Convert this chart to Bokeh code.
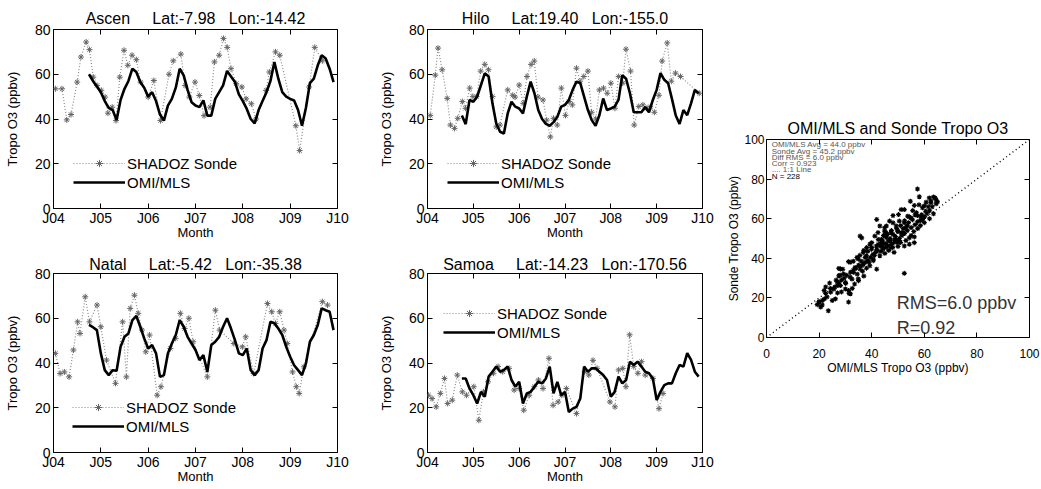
from bokeh.plotting import figure
from bokeh.layouts import row, column
from bokeh.models import (FixedTicker, LinearAxis, Legend, LegendItem, Range1d,
                          ColumnDataSource)
from bokeh.core.properties import value
from bokeh.embed import file_html
from bokeh.resources import INLINE

FONT = "Liberation Sans"

# ---------------- data ----------------
year_ticks = [2004, 2005, 2006, 2007, 2008, 2009, 2010]
year_labels = ["J04", "J05", "J06", "J07", "J08", "J09", "J10"]
o3_ticks = [0, 20, 40, 60, 80]

# OMI/MLS monthly values, Oct 2004 .. Dec 2009
omi_months = [2004.75 + i / 12 for i in range(63)]

ascen_omi = [60, 57, 54.5,
             52, 48, 45, 44, 39.5, 48.5, 53.5, 57, 62.5, 61, 56.5, 54,
             50, 52, 48, 42, 39.3, 46, 49, 54, 62.5, 59.5, 53, 47.5,
             46, 45.3, 48.3, 41.5, 41.5, 49, 52, 55, 61.5, 59, 56.5, 51,
             48, 44.5, 40, 38, 44, 48, 52, 57, 65.5, 58, 52, 50,
             49, 48.3, 44, 37, 45, 56, 58, 64, 68.5, 67, 62.5, 56.5]
ascen_sonde_t = [2004.04, 2004.18, 2004.28, 2004.37, 2004.50, 2004.58, 2004.69, 2004.76, 2004.84, 2004.92,
                 2005.01, 2005.09, 2005.15, 2005.24, 2005.32, 2005.40, 2005.49, 2005.57, 2005.66, 2005.75,
                 2005.84, 2006.00, 2006.12, 2006.26, 2006.44, 2006.53, 2006.69, 2006.78, 2006.87, 2006.99,
                 2007.08, 2007.18, 2007.31, 2007.40, 2007.50, 2007.59, 2007.67, 2007.75, 2007.86, 2007.98,
                 2008.07, 2008.18, 2008.28, 2008.49, 2008.56, 2008.69, 2008.78, 2009.12, 2009.20, 2009.40,
                 2009.52, 2009.68]
ascen_sonde_v = [53.5, 53.5, 39.6, 42, 56.5, 67.7, 74.4, 71, 58.7, 55,
                 52.8, 49.8, 42.6, 45.3, 39.3, 58.7, 70.7, 64, 68.5, 66.5,
                 56.5, 49.8, 57.2, 39.3, 60, 66, 69, 55, 49.8, 56.5,
                 50.5, 41.5, 45.3, 65.5, 68.5, 76, 72, 62.5, 55.8, 54.3,
                 49, 46.8, 40, 52.8, 61, 70, 68.5, 37, 25.9, 54.3,
                 72, 66]

hilo_omi = [41.6, 37.7, 48.5,
            47.7, 50, 55.2, 60.4, 59, 47, 38, 34.3, 33.5, 42.5, 47.7, 45.5,
            44.7, 42.5, 50, 56.7, 51.5, 44, 40, 37.8, 37, 38.6, 41, 45.5,
            46.3, 48.5, 53, 56.7, 56, 50, 44, 39.5, 37, 41.7, 49.2, 44,
            44.7, 45.5, 48.5, 59.6, 58, 51.5, 43, 43, 43, 45.3, 43, 48.5,
            53, 60.5, 57.5, 56, 49, 41.6, 37.8, 44, 41.7, 47, 53, 51.5]
hilo_sonde_t = [2004.06, 2004.17, 2004.23, 2004.32, 2004.43, 2004.50, 2004.59, 2004.66, 2004.76, 2004.83,
                2004.92, 2004.99, 2005.07, 2005.16, 2005.25, 2005.33, 2005.42, 2005.50, 2005.58, 2005.75,
                2005.86, 2005.91, 2006.00, 2006.09, 2006.17, 2006.26, 2006.33, 2006.41, 2006.52, 2006.60,
                2006.68, 2006.75, 2006.83, 2006.92, 2007.01, 2007.09, 2007.16, 2007.25, 2007.33, 2007.41,
                2007.50, 2007.58, 2007.67, 2007.75, 2007.84, 2007.92, 2008.00, 2008.09, 2008.17, 2008.26,
                2008.33, 2008.43, 2008.51, 2008.61, 2008.70, 2008.79, 2008.86, 2008.95, 2009.05, 2009.12,
                2009.23, 2009.32, 2009.41, 2009.52, 2009.93]
hilo_sonde_v = [41.6, 59.6, 71.7, 62, 49.2, 37.3, 35.8, 40.3, 47.8, 44.8,
                53.8, 50, 50, 61.4, 64.4, 62, 50, 36.5, 37.3, 53,
                50.6, 49.8, 55.2, 47, 59, 64.4, 65.9, 49.8, 48.5, 39.5,
                32, 40.3, 37.3, 53.8, 41.6, 47.8, 46.3, 62.7, 56.9, 59,
                61.4, 43, 40, 53, 53.8, 51.5, 56, 44.8, 59, 56,
                71.2, 61.4, 37.3, 45.6, 46.3, 44.8, 45.5, 43, 50.6, 65.9,
                74, 56.9, 60.5, 59, 51.5]

natal_omi = [57, 56, 54.7,
             44.3, 36.8, 34.6, 36.8, 36.5, 47.2, 51.7, 53.2, 59.2, 61, 56.2, 51,
             46.5, 48, 44.3, 33.8, 34.6, 44.3, 48.7, 52.5, 59.2, 56.2, 51.7, 48.7,
             45.8, 41.3, 43.5, 36, 48, 49.5, 51.7, 56.2, 60, 55.4, 50.2, 44.3,
             43.5, 46.5, 36.8, 34.6, 36.8, 46.5, 50.2, 58.4, 57.7, 55.4, 52.5, 47.2,
             42.8, 39, 36.8, 34.6, 39.8, 49.5, 52.5, 57, 64.4, 63.6, 62.9, 54.7]
natal_sonde_t = [2004.04, 2004.14, 2004.23, 2004.33, 2004.42, 2004.51, 2004.56, 2004.67, 2004.76, 2004.92,
                 2005.00, 2005.12, 2005.31, 2005.46, 2005.54, 2005.62, 2005.71, 2005.79, 2005.87, 2005.95,
                 2006.03, 2006.19, 2006.27, 2006.47, 2006.58, 2006.68, 2006.77, 2006.86, 2006.95, 2007.25,
                 2007.42, 2007.51, 2007.81, 2007.99, 2008.06, 2008.23, 2008.52, 2008.61, 2008.69, 2008.78,
                 2008.87, 2008.94, 2009.05, 2009.13, 2009.19, 2009.29, 2009.68, 2009.79]
natal_sonde_v = [44.3, 35.3, 36, 33.8, 45.8, 58.4, 53.2, 69.6, 58.4, 65.9,
                 56.2, 41.3, 30.9, 58.4, 33.8, 64.4, 70.3, 62.2, 54.7, 45,
                 52.5, 25.6, 29.4, 46.5, 51, 62.2, 55.4, 60, 49.5, 33.8,
                 63.6, 54.7, 48.7, 47.2, 51.7, 35.3, 66.6, 62.9, 57.7, 62.9,
                 54.7, 48.7, 36, 29.4, 26.4, 38.3, 67.4, 65.9]

samoa_omi = [33.1, 33.1, 28.6,
             25.6, 21.9, 27.1, 24.9, 33.9, 36.1, 38.4, 36.1, 36.9, 38.4, 32.4, 29.4,
             31.6, 21.9, 26.4, 27.1, 29.4, 31.6, 30.9, 33.1, 38.4, 26.4, 31.6, 25.6,
             27.1, 18.1, 19.6, 20.4, 24.1, 38.4, 36.1, 37.6, 37.6, 36.1, 34.6, 32.4,
             24.9, 27.1, 33.9, 30.9, 32.4, 40.6, 39.1, 40.6, 38.4, 36.1, 35.4, 33.1,
             23.4, 27.1, 30.1, 30.9, 30.9, 35.4, 39.1, 38.4, 44.4, 41.4, 36.1, 33.9]
samoa_sonde_t = [2004.02, 2004.10, 2004.19, 2004.28, 2004.37, 2004.44, 2004.54, 2004.65, 2004.76, 2004.85,
                 2005.01, 2005.12, 2005.22, 2005.32, 2005.44, 2005.54, 2005.64, 2005.78, 2005.89, 2006.00,
                 2006.10, 2006.22, 2006.33, 2006.42, 2006.52, 2006.65, 2006.74, 2006.85, 2006.93, 2007.03,
                 2007.25, 2007.43, 2007.52, 2007.61, 2007.70, 2007.98, 2008.09, 2008.17, 2008.26, 2008.33,
                 2008.41, 2008.50, 2008.59, 2008.67, 2008.75, 2008.92, 2009.05, 2009.14]
samoa_sonde_v = [25.6, 24.1, 20.4, 26.4, 33.1, 21.9, 23.4, 34.6, 27.1, 25.6,
                 29.4, 14.4, 27.1, 31.6, 35.4, 38.4, 36.1, 37.6, 27.9, 28.6,
                 18.9, 25.6, 29.4, 32.4, 28.6, 42.1, 21.1, 22.6, 25.6, 28.6,
                 17.4, 36.1, 34.6, 41.2, 37.6, 22.6, 20.4, 36.9, 37.6, 29.4,
                 52.6, 38.4, 35.4, 40.6, 34.6, 33.1, 19.6, 26.4]

# scatter: OMI/MLS (x) vs sonde (y)
scatter_omi = [57.4, 58.1, 61.9, 64.1, 60.7, 62.5, 54.7, 56.2, 52.4, 55.6, 59.3, 57.4, 53.7, 51.2, 50.2,
               41.9, 48.1, 45.6, 43.1, 52.4, 54.9, 59.3, 49.9, 47.3, 51.2, 44.9, 41.2, 35.6, 54.3, 52.4,
               56.2, 38.1, 40.0, 43.7, 46.2, 48.7, 41.9, 44.3, 47.3, 43.1, 40.6, 37.5, 34.4, 31.2, 36.8,
               39.3, 35.6, 33.1, 27.5, 41.9, 52.4, 32.5, 35.0, 30.0, 27.5, 26.9, 28.1, 25.6, 31.2, 31.9,
               21.9, 24.4, 26.2, 25.0, 31.2, 20.0, 19.3, 20.6, 23.5, 21.2,
               60.5, 58.7, 54.3, 48.1, 46.8, 50.5, 49.3, 44.9, 53.0, 42.4, 45.5, 48.1, 51.8, 56.2, 36.2,
               43.7, 46.8, 49.9, 54.3, 39.3, 41.8, 44.3, 39.9, 36.8, 38.0, 34.9, 40.6, 31.8, 33.7, 36.2,
               28.1, 29.3, 31.8, 34.9, 26.9, 30.1, 32.6, 24.3, 22.5, 31.4, 20.0, 21.2,
               42.5, 43.5, 45.0, 46.0, 47.5, 48.5, 44.0, 45.5, 47.0, 49.0, 50.5, 51.5, 52.5, 53.5, 55.0,
               56.5, 57.5, 58.5, 60.0, 61.0, 62.0, 63.0, 64.5, 65.0, 38.5, 39.5, 40.5, 41.5, 42.0, 37.5,
               36.0, 35.0, 34.0, 33.0, 32.0, 30.5, 29.5, 28.5, 27.5, 26.0, 46.5, 48.0, 50.0, 51.0, 53.0,
               55.0, 56.0, 57.5, 58.5, 60.0, 62.0, 63.5, 40.0, 38.5, 37.0, 42.5, 44.5, 46.0, 47.5, 49.5,
               51.0, 52.5, 54.0, 55.5, 57.0, 59.0, 48.5, 45.0, 43.5, 47.0, 34.5, 36.5, 38.0, 37.0, 33.5,
               30.0, 28.5, 27.0, 23.0, 22.0, 50.0, 52.0, 53.5, 49.0, 50.5, 45.5, 44.0, 41.0, 39.0, 35.5,
               33.0, 29.0, 28.0, 26.5, 24.0, 22.5, 58.0, 60.0, 61.5, 56.5, 62.5, 63.5, 64.5]
scatter_sonde = [75.0, 71.1, 70.5, 70.5, 68.3, 68.0, 68.8, 66.7, 64.6, 64.1, 65.5, 61.6, 61.3, 64.6, 62.1,
                 59.6, 57.9, 56.3, 56.3, 57.9, 60.4, 59.6, 53.7, 52.9, 52.9, 53.7, 51.2, 51.2, 50.3, 46.2,
                 47.9, 45.4, 47.9, 47.9, 48.7, 49.6, 44.6, 44.6, 45.4, 41.3, 39.6, 40.4, 40.4, 38.3, 37.0,
                 36.2, 34.5, 32.9, 34.9, 34.5, 32.4, 29.5, 28.7, 27.8, 31.2, 26.2, 26.2, 24.5, 23.7, 22.1,
                 23.7, 22.9, 19.5, 18.7, 17.9, 17.9, 16.6, 15.4, 13.5, 18.7,
                 63.8, 60.9, 60.9, 61.6, 58.8, 58.8, 56.3, 55.4, 55.4, 53.0, 53.0, 52.1, 53.0, 50.8, 50.3,
                 49.6, 48.8, 47.9, 47.1, 47.1, 46.2, 45.4, 44.6, 42.9, 41.3, 39.6, 38.8, 38.0, 35.4, 36.2,
                 34.6, 32.1, 30.5, 29.6, 28.1, 27.3, 24.8, 24.8, 22.3, 22.3, 18.1, 16.4,
                 47.0, 46.0, 47.5, 46.5, 47.0, 48.0, 49.0, 50.5, 50.0, 51.0, 50.0, 51.5, 52.5, 54.0, 55.5,
                 57.0, 58.5, 59.0, 61.0, 62.5, 64.0, 66.0, 67.5, 68.5, 39.0, 40.5, 42.0, 43.0, 44.0, 38.0,
                 38.5, 36.5, 35.0, 34.0, 33.0, 31.5, 30.0, 29.0, 27.5, 25.5, 44.0, 45.5, 46.0, 48.0, 49.0,
                 51.5, 53.5, 55.0, 56.5, 58.0, 60.0, 62.5, 45.5, 43.5, 44.0, 49.5, 51.5, 52.0, 54.0, 55.0,
                 56.5, 59.0, 58.0, 59.5, 63.0, 62.0, 43.0, 42.5, 43.5, 49.0, 32.0, 33.5, 35.0, 31.0, 27.0,
                 24.5, 23.0, 22.5, 20.5, 19.5, 53.5, 55.0, 56.5, 49.5, 49.0, 45.5, 47.0, 41.5, 38.0, 41.5,
                 38.5, 34.5, 31.5, 29.0, 27.5, 25.5, 67.0, 66.5, 66.0, 62.0, 69.0, 71.0, 69.5]
scatter_ticks = [0, 20, 40, 60, 80, 100]
one_to_one = [0, 100]

stats_lines = ["OMI/MLS Avg = 44.0 ppbv", "Sonde Avg = 45.2 ppbv", "Diff RMS = 6.0 ppbv",
               "Corr = 0.923", "....  1:1 Line", "N = 228"]
big_lines = ["RMS=6.0 ppbv", "R=0.92"]

SONDE_COLOR = "#8a8a8a"
SONDE_MARK = "#666666"
GAP1 = " \u00a0 \u00a0 "
GAP2 = " \u00a0 "


def style_axis(ax, ticker, labels=True, overrides=None, size="14px", lsize="13px"):
    ax.ticker = ticker
    ax.axis_line_color = None
    ax.major_tick_in = 5
    ax.major_tick_out = 0
    ax.minor_tick_in = 2
    ax.minor_tick_out = 0
    ax.major_tick_line_color = "black"
    ax.minor_tick_line_color = "black"
    ax.major_label_text_font = FONT
    ax.major_label_text_color = "black"
    ax.axis_label_text_font = FONT
    ax.axis_label_text_font_style = "normal"
    ax.axis_label_text_color = "black"
    if labels:
        ax.major_label_text_font_size = size
        ax.axis_label_text_font_size = lsize
        ax.major_label_standoff = 3
        if overrides:
            ax.major_label_overrides = overrides
    else:
        ax.major_label_text_font_size = "0px"
        ax.major_label_standoff = 0
        ax.major_label_overrides = {t: "" for t in ticker.ticks}


def style_title(p, text, standoff):
    p.title.text = text
    p.title.text_font = FONT
    p.title.text_font_size = "16px"
    p.title.text_font_style = "normal"
    p.title.text_color = "black"
    p.title.align = "center"
    p.title.standoff = standoff


def ts_panel(title, sonde_t, sonde_v, omi_v, legend_xy, w, h, bl, br, bt, bb, title_standoff):
    p = figure(width=w, height=h, output_backend="svg",
               toolbar_location=None, x_range=Range1d(2004, 2010), y_range=Range1d(0, 80),
               min_border_left=bl, min_border_right=br, min_border_top=bt, min_border_bottom=bb,
               x_axis_label="Month", y_axis_label="Tropo O3 (ppbv)")
    style_title(p, title, title_standoff)
    p.outline_line_color = "black"
    p.outline_line_width = 1
    p.xgrid.visible = False
    p.ygrid.visible = False
    p.background_fill_color = "white"
    p.border_fill_color = "white"

    style_axis(p.xaxis[0], FixedTicker(ticks=year_ticks, num_minor_ticks=6),
               overrides=dict(zip(year_ticks, year_labels)), lsize="13px")
    p.xaxis[0].axis_label_standoff = -4
    p.xaxis[0].major_label_standoff = 1
    style_axis(p.yaxis[0], FixedTicker(ticks=o3_ticks, num_minor_ticks=4))
    p.yaxis[0].axis_label_standoff = 12
    top = LinearAxis()
    style_axis(top, FixedTicker(ticks=year_ticks, num_minor_ticks=6), labels=False)
    right = LinearAxis()
    style_axis(right, FixedTicker(ticks=o3_ticks, num_minor_ticks=4), labels=False)
    p.add_layout(top, "above")
    p.add_layout(right, "right")

    src_s = ColumnDataSource(dict(t=sonde_t, v=sonde_v))
    src_o = ColumnDataSource(dict(t=omi_months, v=omi_v))
    r1 = p.line("t", "v", source=src_s, line_color=SONDE_COLOR, line_width=1.2, line_dash="1 2")
    r2 = p.scatter("t", "v", source=src_s, marker="asterisk", size=6, line_color=SONDE_MARK,
                   line_width=1)
    r3 = p.line("t", "v", source=src_o, line_color="black", line_width=2.6)

    leg = Legend(items=[LegendItem(label="SHADOZ Sonde", renderers=[r1, r2]),
                        LegendItem(label="OMI/MLS", renderers=[r3])],
                 location=legend_xy)
    leg.border_line_alpha = 0
    leg.background_fill_alpha = 0
    leg.padding = 0
    leg.margin = 0
    leg.spacing = 1
    leg.glyph_width = 52
    leg.glyph_height = 18
    leg.label_height = 18
    leg.label_standoff = 2
    leg.label_text_font = FONT
    leg.label_text_font_size = "15px"
    leg.label_text_color = "black"
    p.add_layout(leg)
    return p


p1 = ts_panel("Ascen" + GAP1 + "Lat:-7.98" + GAP2 + "Lon:-14.42", ascen_sonde_t, ascen_sonde_v,
              ascen_omi, (20, 17), 374, 244, 53, 37, 29, 36, 5)
p3 = ts_panel("Natal" + GAP1 + "Lat:-5.42" + GAP2 + "Lon:-35.38", natal_sonde_t, natal_sonde_v,
              natal_omi, (19, 17), 374, 245, 53, 37, 29, 37, 2)
p2 = ts_panel("Hilo" + GAP1 + "Lat:19.40" + GAP2 + "Lon:-155.0", hilo_sonde_t, hilo_sonde_v,
              hilo_omi, (20, 17), 350, 244, 53, 22, 29, 36, 5)
p4 = ts_panel("Samoa" + GAP1 + "Lat:-14.23" + GAP2 + "Lon:-170.56", samoa_sonde_t, samoa_sonde_v,
              samoa_omi, (16, 111), 350, 245, 53, 22, 29, 37, 2)

# ---------------- scatter ----------------
p5 = figure(width=316, height=382, output_backend="svg", toolbar_location=None,
            x_range=Range1d(0, 100), y_range=Range1d(0, 100),
            min_border_left=41, min_border_right=11, min_border_top=139, min_border_bottom=45,
            x_axis_label="OMI/MLS Tropo O3 (ppbv)", y_axis_label="Sonde Tropo O3 (ppbv)")
style_title(p5, "OMI/MLS and Sonde Tropo O3", 5)
p5.outline_line_color = "black"
p5.xgrid.visible = False
p5.ygrid.visible = False
p5.border_fill_color = "white"
style_axis(p5.xaxis[0], FixedTicker(ticks=scatter_ticks, num_minor_ticks=4), size="12px",
           lsize="12px")
style_axis(p5.yaxis[0], FixedTicker(ticks=scatter_ticks, num_minor_ticks=4), size="12px",
           lsize="12px")
p5.xaxis[0].major_label_standoff = 11
p5.xaxis[0].axis_label_standoff = 0
p5.yaxis[0].major_label_standoff = 2
p5.yaxis[0].axis_label_standoff = 0
t5 = LinearAxis()
style_axis(t5, FixedTicker(ticks=scatter_ticks, num_minor_ticks=4), labels=False)
r5 = LinearAxis()
style_axis(r5, FixedTicker(ticks=scatter_ticks, num_minor_ticks=4), labels=False)
p5.add_layout(t5, "above")
p5.add_layout(r5, "right")

p5.line(one_to_one, one_to_one, line_color="black", line_width=1.4, line_dash="1 3")
p5.scatter(scatter_omi, scatter_sonde, marker="asterisk", size=5, line_color="black",
           line_width=1.1)

p5.text(x=[2.0] * 6, y=[97.5, 94.0, 91.0, 88.0, 84.6, 81.4], text=stats_lines,
        text_font_size="8px", text_color=["#555555"] * 5 + ["black"],
        text_baseline="middle", text_font=value(FONT))
p5.text(x=[49.5, 49.5], y=[17.6, 4.8], text=big_lines, text_font_size="18px",
        text_color="#333333", text_baseline="middle", text_font=value(FONT))

layout = row(column(p1, p3), column(p2, p4), p5)
open("out.html", "w").write(file_html(layout, INLINE))
